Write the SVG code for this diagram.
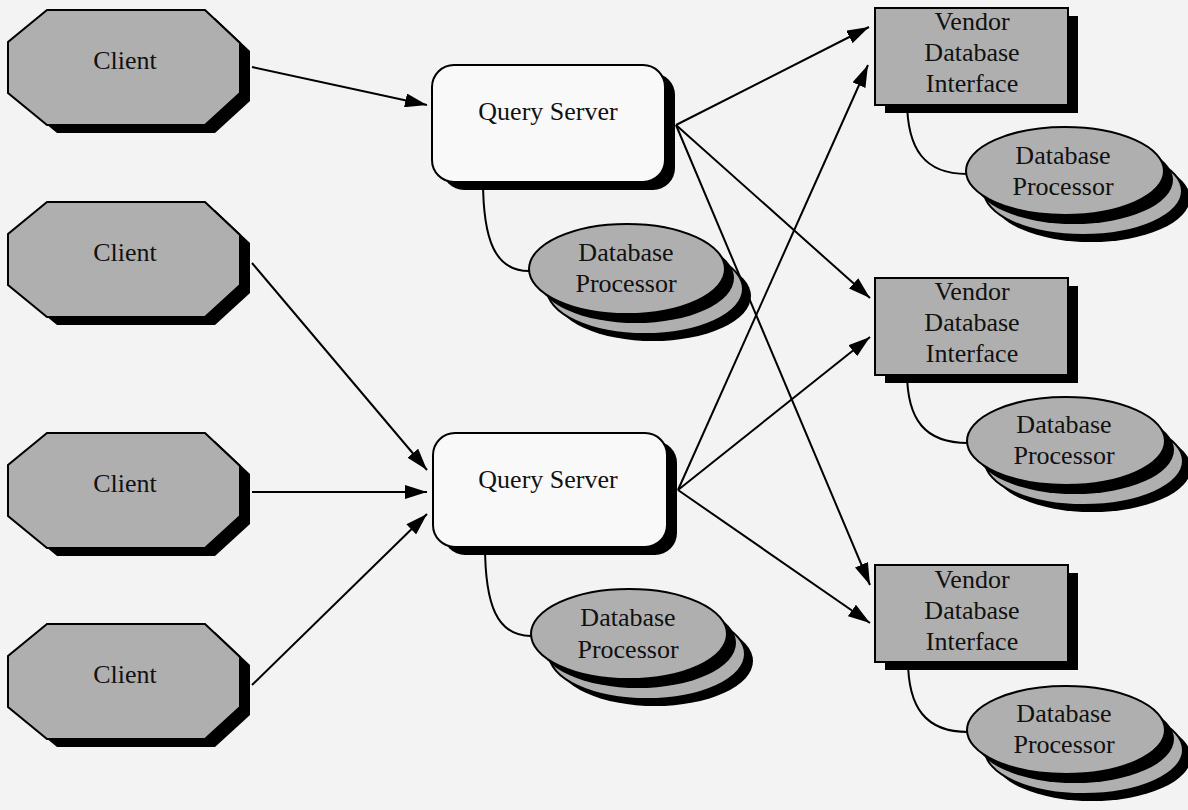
<svg xmlns="http://www.w3.org/2000/svg" width="1188" height="810" viewBox="0 0 1188 810">
<style>
  .bg{fill:#f3f3f3}
  .sh{fill:#000}
  .grey{fill:#afafaf;stroke:#000;stroke-width:2}
  .white{fill:#f9f9f9;stroke:#000;stroke-width:2}
  .lbl{font-family:"Liberation Serif","Times New Roman",serif;font-size:26px;fill:#111;text-anchor:middle}
  .edge{fill:none;stroke:#000;stroke-width:2}
</style>
<defs>
  <polygon id="oct" points="39,0 197,0 232,33 232,83 197,115 39,115 0,83 0,32"/>
  <marker id="ah" markerUnits="userSpaceOnUse" markerWidth="22" markerHeight="14" refX="22" refY="7" orient="auto">
    <path d="M0,0 L22,7 L0,14 z" fill="#000"/>
  </marker>
</defs>
<rect class="bg" x="0" y="0" width="1188" height="810"/>

<g id="links">
  <path class="edge" d="M483,180 C483,240 495,271 529,271"/>
  <path class="edge" d="M485,545 C485,605 497,636 531,636"/>
  <path class="edge" d="M907,100 C907,150 925,174 967,174"/>
  <path class="edge" d="M907,372 C907,420 925,443 968,443"/>
  <path class="edge" d="M908,660 C908,708 926,732 968,732"/>
</g>

<g id="client1"><use href="#oct" class="sh" x="18" y="18"/><use href="#oct" class="grey" x="8" y="10"/><text class="lbl" x="125" y="69">Client</text></g>
<g id="client2"><use href="#oct" class="sh" x="18" y="210"/><use href="#oct" class="grey" x="8" y="202"/><text class="lbl" x="125" y="261">Client</text></g>
<g id="client3"><use href="#oct" class="sh" x="18" y="441"/><use href="#oct" class="grey" x="8" y="433"/><text class="lbl" x="125" y="492">Client</text></g>
<g id="client4"><use href="#oct" class="sh" x="18" y="632"/><use href="#oct" class="grey" x="8" y="624"/><text class="lbl" x="125" y="683">Client</text></g>

<g id="qs1"><rect class="sh" x="442" y="73" width="233" height="117" rx="22"/><rect class="white" x="432" y="65" width="233" height="117" rx="22"/><text class="lbl" x="548" y="120">Query Server</text></g>
<g id="qs2"><rect class="sh" x="443" y="441" width="234" height="114" rx="22"/><rect class="white" x="433" y="433" width="234" height="114" rx="22"/><text class="lbl" x="548" y="488">Query Server</text></g>

<g id="dbp_m1">
  <ellipse class="sh" cx="653" cy="296" rx="98" ry="45"/><ellipse class="grey" cx="645" cy="289" rx="98" ry="45"/>
  <ellipse class="sh" cx="636" cy="278" rx="98" ry="45"/><ellipse class="grey" cx="627" cy="269" rx="98" ry="45"/>
  <text class="lbl" x="626" y="261">Database</text><text class="lbl" x="626" y="292">Processor</text>
</g>
<g id="dbp_m2">
  <ellipse class="sh" cx="655" cy="661" rx="98" ry="45"/><ellipse class="grey" cx="647" cy="654" rx="98" ry="45"/>
  <ellipse class="sh" cx="638" cy="643" rx="98" ry="45"/><ellipse class="grey" cx="629" cy="634" rx="98" ry="45"/>
  <text class="lbl" x="628" y="626">Database</text><text class="lbl" x="628" y="658">Processor</text>
</g>

<g id="vdi1"><rect class="sh" x="885" y="16" width="193" height="97"/><rect class="grey" x="875" y="8" width="193" height="97"/>
  <text class="lbl" x="972" y="30">Vendor</text><text class="lbl" x="972" y="61">Database</text><text class="lbl" x="972" y="92">Interface</text></g>
<g id="vdi2"><rect class="sh" x="885" y="286" width="193" height="97"/><rect class="grey" x="875" y="278" width="193" height="97"/>
  <text class="lbl" x="972" y="300">Vendor</text><text class="lbl" x="972" y="331">Database</text><text class="lbl" x="972" y="362">Interface</text></g>
<g id="vdi3"><rect class="sh" x="885" y="573" width="193" height="97"/><rect class="grey" x="875" y="565" width="193" height="97"/>
  <text class="lbl" x="972" y="588">Vendor</text><text class="lbl" x="972" y="619">Database</text><text class="lbl" x="972" y="650">Interface</text></g>

<g id="dbp_r1">
  <ellipse class="sh" cx="1091" cy="198" rx="99" ry="44"/><ellipse class="grey" cx="1083" cy="191" rx="99" ry="44"/>
  <ellipse class="sh" cx="1074" cy="180" rx="99" ry="44"/><ellipse class="grey" cx="1065" cy="171" rx="99" ry="44"/>
  <text class="lbl" x="1063" y="164">Database</text><text class="lbl" x="1063" y="195">Processor</text>
</g>
<g id="dbp_r2">
  <ellipse class="sh" cx="1092" cy="468" rx="99" ry="44"/><ellipse class="grey" cx="1084" cy="461" rx="99" ry="44"/>
  <ellipse class="sh" cx="1075" cy="450" rx="99" ry="44"/><ellipse class="grey" cx="1066" cy="441" rx="99" ry="44"/>
  <text class="lbl" x="1064" y="433">Database</text><text class="lbl" x="1064" y="464">Processor</text>
</g>
<g id="dbp_r3">
  <ellipse class="sh" cx="1092" cy="757" rx="99" ry="44"/><ellipse class="grey" cx="1084" cy="750" rx="99" ry="44"/>
  <ellipse class="sh" cx="1075" cy="739" rx="99" ry="44"/><ellipse class="grey" cx="1066" cy="730" rx="99" ry="44"/>
  <text class="lbl" x="1064" y="722">Database</text><text class="lbl" x="1064" y="753">Processor</text>
</g>

<g id="connectors">
  <line class="edge" x1="252" y1="67" x2="427" y2="105" marker-end="url(#ah)"/>
  <line class="edge" x1="252" y1="263" x2="427" y2="470" marker-end="url(#ah)"/>
  <line class="edge" x1="252" y1="492" x2="427" y2="492" marker-end="url(#ah)"/>
  <line class="edge" x1="252" y1="685" x2="427" y2="514" marker-end="url(#ah)"/>
  <line class="edge" x1="676" y1="125" x2="869" y2="27" marker-end="url(#ah)"/>
  <line class="edge" x1="676" y1="125" x2="870" y2="298" marker-end="url(#ah)"/>
  <line class="edge" x1="676" y1="125" x2="870" y2="585" marker-end="url(#ah)"/>
  <line class="edge" x1="678" y1="490" x2="868" y2="65" marker-end="url(#ah)"/>
  <line class="edge" x1="678" y1="490" x2="870" y2="337" marker-end="url(#ah)"/>
  <line class="edge" x1="678" y1="490" x2="870" y2="623" marker-end="url(#ah)"/>
</g>
</svg>
